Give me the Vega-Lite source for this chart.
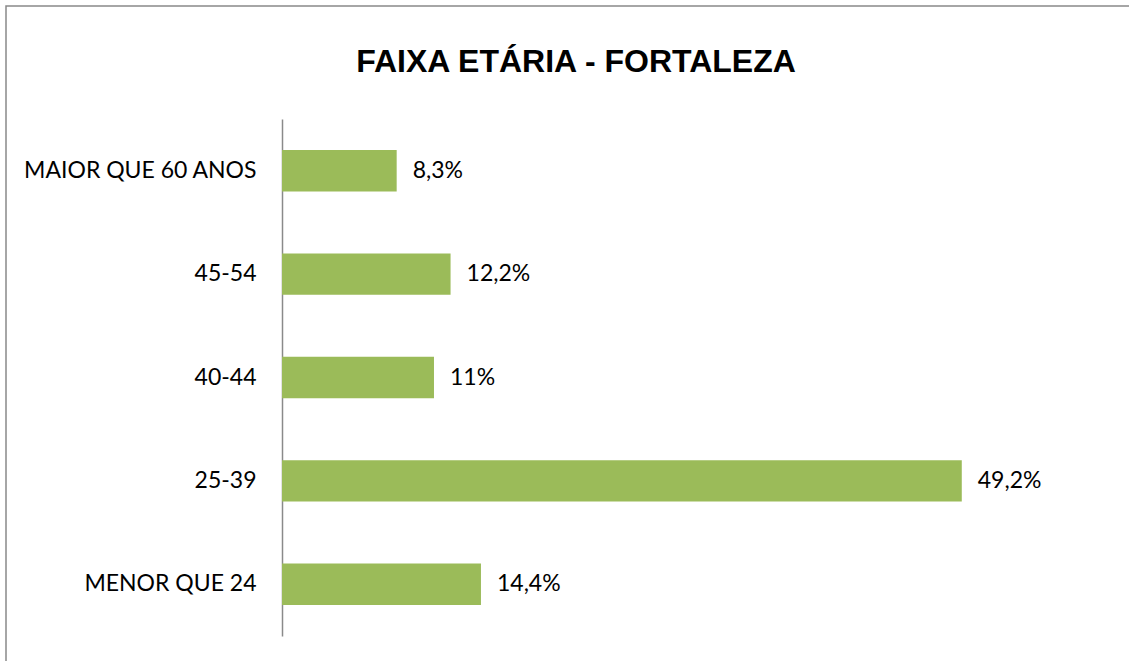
{
  "$schema": "https://vega.github.io/schema/vega-lite/v6.json",
  "autosize": "none",
  "padding": {"left": 6, "top": 6, "right": -17, "bottom": -6},
  "width": 1140,
  "height": 661,
  "background": "white",
  "title": {
    "text": "FAIXA ETÁRIA - FORTALEZA",
    "font": "Liberation Sans",
    "fontSize": 32,
    "fontWeight": "bold",
    "color": "black",
    "anchor": "middle",
    "frame": "group",
    "baseline": "alphabetic",
    "offset": -98,
    "dx": 0
  },
  "data": {
    "values": [
      {"faixa": "MAIOR QUE 60 ANOS", "pct": 8.3, "label": "8,3%"},
      {"faixa": "45-54", "pct": 12.2, "label": "12,2%"},
      {"faixa": "40-44", "pct": 11.0, "label": "11%"},
      {"faixa": "25-39", "pct": 49.2, "label": "49,2%"},
      {"faixa": "MENOR QUE 24", "pct": 14.4, "label": "14,4%"}
    ]
  },
  "encoding": {
    "y": {
      "field": "faixa",
      "type": "nominal",
      "sort": null,
      "title": null,
      "scale": {"range": [113, 630], "paddingInner": 0.6, "paddingOuter": 0.3},
      "axis": {
        "offset": -276,
        "ticks": false,
        "labelPadding": 26,
        "labelLimit": 0,
        "labelFont": "Lato",
        "labelFontSize": 23,
        "labelColor": "black",
        "domainColor": "#8a8a8a",
        "domainWidth": 1.5,
        "grid": false
      }
    },
    "x": {
      "field": "pct",
      "type": "quantitative",
      "scale": {"domain": [0, 60], "range": [276, 1105], "nice": false},
      "axis": null
    }
  },
  "layer": [
    {"mark": {"type": "bar", "color": "#9BBB59"}},
    {
      "mark": {"type": "text", "align": "left", "baseline": "middle", "dx": 16, "font": "Lato", "fontSize": 23, "color": "black"},
      "encoding": {"text": {"field": "label"}}
    }
  ],
  "config": {
    "view": {"stroke": "#898989", "strokeWidth": 1.5}
  }
}
